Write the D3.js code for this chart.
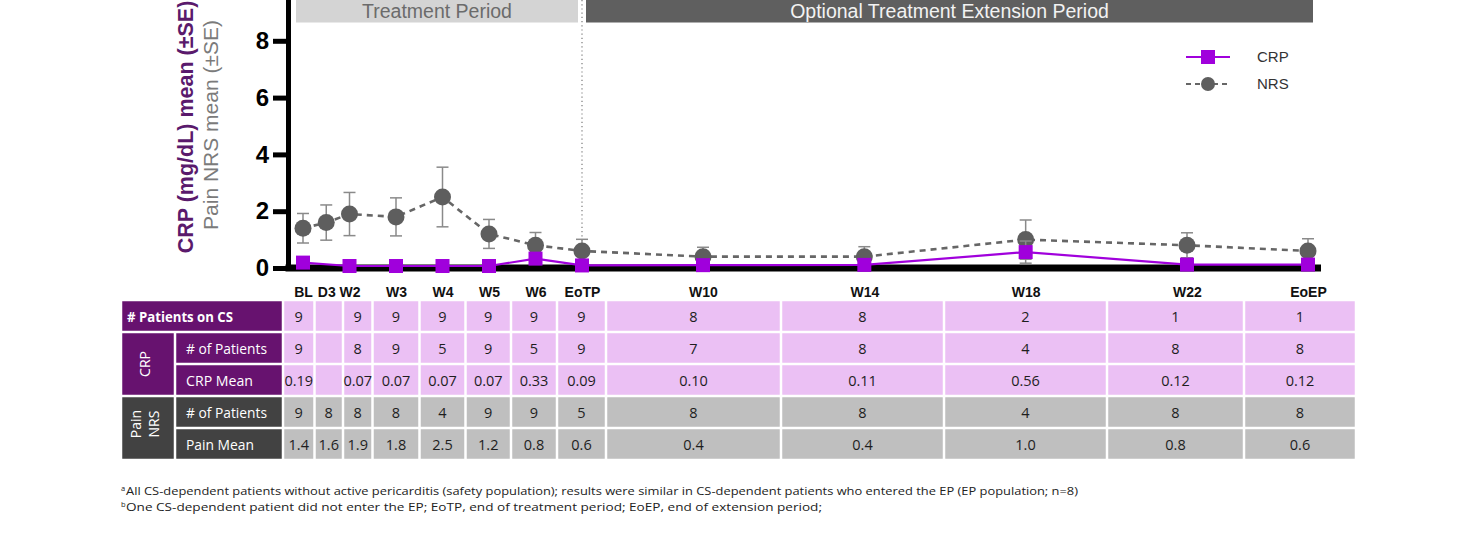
<!DOCTYPE html>
<html>
<head>
<meta charset="utf-8">
<script src="https://cdn.jsdelivr.net/npm/d3@7"></script>
<style>
  html, body { margin: 0; padding: 0; background: #ffffff; }
  svg { display: block; }
</style>
</head>
<body>
<svg id="chart" width="1476" height="554"></svg>
<script>
// ---- data ----
const timepoints = ["BL", "D3", "W2", "W3", "W4", "W5", "W6", "EoTP", "W10", "W14", "W18", "W22", "EoEP"];
// position of each visit on the study time line (weeks)
const studyWeek = [1, 1.5, 2, 3, 4, 5, 6, 7, 10, 14, 18, 22, 25];
const crpMean = [0.19, null, 0.07, 0.07, 0.07, 0.07, 0.33, 0.09, 0.10, 0.11, 0.56, 0.12, 0.12];
const crpSE = [0.07, null, 0.03, 0.02, 0.03, 0.02, 0.14, 0.04, 0.04, 0.05, 0.39, 0.06, 0.06];
const nrsMean = [1.4, 1.6, 1.9, 1.8, 2.5, 1.2, 0.8, 0.6, 0.4, 0.4, 1.0, 0.8, 0.6];
const nrsSE = [0.52, 0.62, 0.76, 0.67, 1.05, 0.51, 0.45, 0.41, 0.33, 0.35, 0.69, 0.44, 0.43];
const patientsOnCS = [9, null, 9, 9, 9, 9, 9, 9, 8, 8, 2, 1, 1];
const crpN = [9, null, 8, 9, 5, 9, 5, 9, 7, 8, 4, 8, 8];
const nrsN = [9, 8, 8, 8, 4, 9, 9, 5, 8, 8, 4, 8, 8];
const yTicks = [0, 2, 4, 6, 8];
const periods = ["Treatment Period", "Optional Treatment Extension Period"];
const footnotes = [
  ["a", "All CS-dependent patients without active pericarditis (safety population); results were similar in CS-dependent patients who entered the EP (EP population; n=8)"],
  ["b", "One CS-dependent patient did not enter the EP; EoTP, end of treatment period; EoEP, end of extension period;"]
];

// ---- layout ----
const svg = d3.select("#chart");
const AXIS_FONT = "'Liberation Sans', Arial, sans-serif";
const TABLE_FONT = "'Open Sans', 'Noto Sans', sans-serif";
const PURPLE = "#a000dc";
const NRS_GREY = "#5e5e5e";

const x = d3.scaleLinear().domain([1, 7, 25]).range([303, 582, 1308]);
const y = d3.scaleLinear().domain([0, 10]).range([268, -16]);
const axisX = 288;

const pts = timepoints.map((t, i) => ({
  t, w: studyWeek[i], crp: crpMean[i], crpSe: crpSE[i], nrs: nrsMean[i], nrsSe: nrsSE[i]
}));

// ---- period header bands ----
const bands = [
  { label: periods[0], x0: 296, x1: 578, fill: "#d4d4d4", color: "#6b6b6b" },
  { label: periods[1], x0: 586, x1: 1313, fill: "#5f5f5f", color: "#f2f2f2" }
];
const gBand = svg.append("g");
gBand.selectAll("rect").data(bands).join("rect")
  .attr("x", d => d.x0).attr("y", -20)
  .attr("width", d => d.x1 - d.x0).attr("height", 42.5)
  .attr("fill", d => d.fill);
gBand.selectAll("text").data(bands).join("text")
  .attr("x", d => (d.x0 + d.x1) / 2).attr("y", 18)
  .attr("text-anchor", "middle")
  .attr("font-family", AXIS_FONT).attr("font-size", 19.5)
  .attr("fill", d => d.color)
  .text(d => d.label);

// dotted separator between treatment and extension periods
svg.append("line")
  .attr("x1", x(7)).attr("x2", x(7))
  .attr("y1", 0).attr("y2", y(0))
  .attr("stroke", "#7a7a7a").attr("stroke-width", 1.2)
  .attr("stroke-dasharray", "1.2,3");

// ---- y axis ----
const yAxis = d3.axisLeft(y).tickValues(yTicks).tickSize(15).tickPadding(4).tickSizeOuter(0);
const gy = svg.append("g").attr("transform", `translate(${axisX},0)`).call(yAxis);
gy.select(".domain").attr("stroke", "#000").attr("stroke-width", 5);
gy.selectAll(".tick line").attr("stroke", "#000").attr("stroke-width", 5);
gy.selectAll(".tick text")
  .attr("font-family", AXIS_FONT).attr("font-size", 24).attr("font-weight", "bold")
  .attr("fill", "#000");

// y axis titles
svg.append("text")
  .attr("transform", `translate(193,${127}) rotate(-90)`)
  .attr("text-anchor", "middle")
  .attr("font-family", AXIS_FONT).attr("font-size", 21.5).attr("font-weight", "bold")
  .attr("fill", "#5a1a6c")
  .text("CRP (mg/dL) mean (±SE)");
svg.append("text")
  .attr("transform", `translate(218,${125}) rotate(-90)`)
  .attr("text-anchor", "middle")
  .attr("font-family", AXIS_FONT).attr("font-size", 21)
  .attr("fill", "#7b7b7b")
  .text("Pain NRS mean (±SE)");

// ---- NRS series (dashed grey) ----
const nrsLine = d3.line().x(d => x(d.w)).y(d => y(d.nrs));
svg.append("path").datum(pts)
  .attr("d", nrsLine)
  .attr("fill", "none").attr("stroke", "#666").attr("stroke-width", 2.6)
  .attr("stroke-dasharray", "6,5");

function errorBars(sel, data, mean, se, color, cap) {
  const g = sel.append("g").attr("stroke", color).attr("stroke-width", 1.5).attr("fill", "none");
  data.forEach(d => {
    if (d[mean] == null) return;
    const cx = x(d.w), top = y(d[mean] + d[se]), bot = y(Math.max(0, d[mean] - d[se]));
    g.append("line").attr("x1", cx).attr("x2", cx).attr("y1", top).attr("y2", bot);
    g.append("line").attr("x1", cx - cap).attr("x2", cx + cap).attr("y1", top).attr("y2", top);
    g.append("line").attr("x1", cx - cap).attr("x2", cx + cap).attr("y1", bot).attr("y2", bot);
  });
}
errorBars(svg, pts, "nrs", "nrsSe", "#8a8a8a", 6);

svg.append("g").selectAll("circle").data(pts).join("circle")
  .attr("cx", d => x(d.w)).attr("cy", d => y(d.nrs)).attr("r", 8.5)
  .attr("fill", NRS_GREY);

// ---- x axis baseline and visit labels ----
svg.append("line")
  .attr("x1", axisX - 2.5).attr("x2", 1321)
  .attr("y1", y(0)).attr("y2", y(0))
  .attr("stroke", "#000").attr("stroke-width", 7);

const xAxis = d3.axisBottom(x).tickValues(studyWeek)
  .tickFormat((d, i) => timepoints[i]).tickSize(0).tickPadding(19);
const gx = svg.append("g").attr("transform", `translate(0,${y(0)})`).call(xAxis);
gx.select(".domain").remove();
gx.selectAll(".tick text")
  .attr("font-family", AXIS_FONT).attr("font-size", 14).attr("font-weight", "bold")
  .attr("fill", "#111");

// ---- CRP series (solid purple) ----
const crpPts = pts.filter(d => d.crp != null);
svg.append("path").datum(crpPts)
  .attr("d", d3.line().x(d => x(d.w)).y(d => y(d.crp)))
  .attr("fill", "none").attr("stroke", PURPLE).attr("stroke-width", 2.2);
errorBars(svg, crpPts, "crp", "crpSe", "#8a8a8a", 6);
svg.append("g").selectAll("rect").data(crpPts).join("rect")
  .attr("x", d => x(d.w) - 7).attr("y", d => y(d.crp) - 7)
  .attr("width", 14).attr("height", 14)
  .attr("fill", PURPLE);

// ---- legend ----
const lg = svg.append("g").attr("font-family", AXIS_FONT).attr("font-size", 15).attr("fill", "#333");
lg.append("line").attr("x1", 1186).attr("x2", 1230).attr("y1", 57).attr("y2", 57)
  .attr("stroke", PURPLE).attr("stroke-width", 2.2);
lg.append("rect").attr("x", 1201).attr("y", 50).attr("width", 14).attr("height", 14).attr("fill", PURPLE);
lg.append("text").attr("x", 1257).attr("y", 62).text("CRP");
lg.append("line").attr("x1", 1186).attr("x2", 1230).attr("y1", 84).attr("y2", 84)
  .attr("stroke", "#666").attr("stroke-width", 2.2).attr("stroke-dasharray", "5,4");
lg.append("circle").attr("cx", 1208).attr("cy", 84).attr("r", 7).attr("fill", NRS_GREY);
lg.append("text").attr("x", 1257).attr("y", 89).text("NRS");

// ---- data table ----
const colEdges = [283, 314.5, 343, 372.5, 419.5, 465.5, 511, 557, 606, 781, 944, 1107, 1244, 1356];
const rowTops = [300, 332, 364, 396, 428];
const rowH = 32, gap = 2.5;
const PINK = "#ebc0f4", GREY = "#bfbfbf", DPURPLE = "#67126f", DGREY = "#424242";

const tableRows = [
  { values: patientsOnCS.map(v => v == null ? "" : String(v)), fill: PINK },
  { values: crpN.map(v => v == null ? "" : String(v)), fill: PINK },
  { values: crpMean.map(v => v == null ? "" : v.toFixed(2)), fill: PINK },
  { values: nrsN.map(v => v == null ? "" : String(v)), fill: GREY },
  { values: nrsMean.map(v => v == null ? "" : v.toFixed(1)), fill: GREY }
];

const gt = svg.append("g").attr("font-family", TABLE_FONT);
tableRows.forEach((row, r) => {
  row.values.forEach((v, c) => {
    const x0 = colEdges[c] + gap / 2, x1 = colEdges[c + 1] - gap / 2;
    gt.append("rect").attr("x", x0).attr("y", rowTops[r] + gap / 2)
      .attr("width", x1 - x0).attr("height", rowH - gap).attr("fill", row.fill);
    gt.append("text").attr("x", (x0 + x1) / 2).attr("y", rowTops[r] + rowH / 2 + 5.5)
      .attr("text-anchor", "middle").attr("font-size", 14.5).attr("fill", "#1e1e1e")
      .text(v);
  });
});

// row header cells
const hdr = [
  { x0: 121, x1: 283, r0: 0, r1: 1, fill: DPURPLE },
  { x0: 121, x1: 175, r0: 1, r1: 3, fill: DPURPLE },
  { x0: 175, x1: 283, r0: 1, r1: 2, fill: DPURPLE },
  { x0: 175, x1: 283, r0: 2, r1: 3, fill: DPURPLE },
  { x0: 121, x1: 175, r0: 3, r1: 5, fill: DGREY },
  { x0: 175, x1: 283, r0: 3, r1: 4, fill: DGREY },
  { x0: 175, x1: 283, r0: 4, r1: 5, fill: DGREY }
];
hdr.forEach(h => {
  gt.append("rect")
    .attr("x", h.x0 + gap / 2).attr("y", rowTops[h.r0] + gap / 2)
    .attr("width", h.x1 - h.x0 - gap).attr("height", (h.r1 - h.r0) * rowH - gap)
    .attr("fill", h.fill);
});
gt.append("text").attr("x", 127).attr("y", rowTops[0] + rowH / 2 + 5.5)
  .attr("font-size", 14).attr("font-weight", "bold").attr("fill", "#fff")
  .attr("textLength", 106).attr("lengthAdjust", "spacingAndGlyphs")
  .text("# Patients on CS");
[["# of Patients", 1, 81], ["CRP Mean", 2, 67], ["# of Patients", 3, 81], ["Pain Mean", 4, 68]].forEach(([t, r, w]) => {
  gt.append("text").attr("x", 186).attr("y", rowTops[r] + rowH / 2 + 5.5)
    .attr("font-size", 14.5).attr("fill", "#fff")
    .attr("textLength", w).attr("lengthAdjust", "spacingAndGlyphs")
    .text(t);
});
gt.append("text")
  .attr("transform", `translate(150,${rowTops[1] + rowH}) rotate(-90)`)
  .attr("text-anchor", "middle").attr("font-size", 14).attr("fill", "#fff")
  .text("CRP");
const pn = gt.append("text")
  .attr("transform", `translate(141,${rowTops[3] + rowH - 4}) rotate(-90)`)
  .attr("text-anchor", "middle").attr("font-size", 14).attr("fill", "#fff");
pn.append("tspan").attr("x", 0).attr("y", 0).text("Pain");
pn.append("tspan").attr("x", 0).attr("y", 18).text("NRS");

// ---- footnotes ----
const fn = svg.append("g").attr("font-family", TABLE_FONT).attr("fill", "#222");
const fnEnds = [1078, 822];
footnotes.forEach(([sup, txt], i) => {
  const base = 495 + i * 16;
  fn.append("text").attr("x", 121).attr("y", base - 4).attr("font-size", 7.5).text(sup);
  fn.append("text").attr("x", 126).attr("y", base).attr("font-size", 11.5)
    .attr("textLength", fnEnds[i] - 126).attr("lengthAdjust", "spacingAndGlyphs")
    .text(txt);
});
</script>
</body>
</html>
